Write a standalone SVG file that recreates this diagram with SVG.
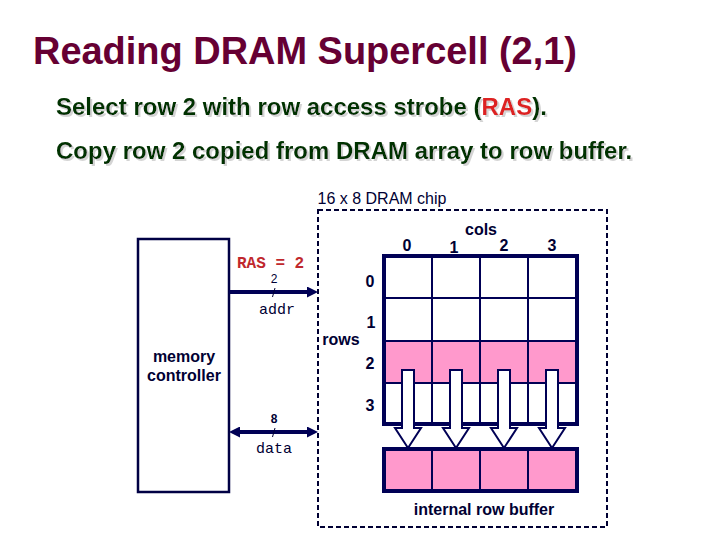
<svg xmlns="http://www.w3.org/2000/svg" width="720" height="540" viewBox="0 0 720 540">
  <style>
    .title { font-family: "Liberation Sans", Arial, sans-serif; font-weight: bold; font-size: 38px; fill: #660033; }
    .sub { font-family: "Liberation Sans", Arial, sans-serif; font-weight: bold; font-size: 24px; fill: #003300; filter: url(#shadow); }
    .lbl { font-family: "Liberation Sans", Arial, sans-serif; font-size: 16px; fill: #000033; }
    .lblb { font-family: "Liberation Sans", Arial, sans-serif; font-weight: bold; font-size: 16px; fill: #000033; }
    .mono { font-family: "Liberation Mono", "Courier New", monospace; font-size: 15px; fill: #000033; }
    .small { font-family: "Liberation Sans", Arial, sans-serif; font-size: 12px; fill: #000033; }
    .ras { font-family: "Liberation Mono", "Courier New", monospace; font-weight: bold; font-size: 16px; fill: #c0282d; }
    .box { fill: #ffffff; stroke: #000044; stroke-width: 2.5; }
    .dash { fill: none; stroke: #000033; stroke-width: 2; stroke-dasharray: 5 3; }
    .cell { fill: #ffffff; stroke: #000055; stroke-width: 2; }
    .hot { fill: #ff99cc; stroke: #000055; stroke-width: 2; }
    .outer { fill: none; stroke: #000055; stroke-width: 4; }
    .bus { stroke: #000055; stroke-width: 4; fill: none; }
    .tick { stroke: #000033; stroke-width: 1; }
    .copy { fill: #ffffff; stroke: #000055; stroke-width: 2; stroke-linejoin: miter; }
  </style>
  <defs>
    <filter id="shadow" x="-5%" y="-20%" width="110%" height="150%">
      <feOffset in="SourceAlpha" dx="1.5" dy="1.5" result="off"/>
      <feFlood flood-color="#d4d4d4"/>
      <feComposite in2="off" operator="in" result="sh"/>
      <feMerge>
        <feMergeNode in="sh"/>
        <feMergeNode in="SourceGraphic"/>
      </feMerge>
    </filter>
    <marker id="head" markerUnits="userSpaceOnUse" markerWidth="11" markerHeight="11" refX="4" refY="5.5" orient="auto-start-reverse">
      <path d="M0,0 L11,5.5 L0,11 z" fill="#000055"/>
    </marker>
  </defs>

  <g id="title">
    <text class="title" x="33" y="64" textLength="544" lengthAdjust="spacingAndGlyphs">Reading DRAM Supercell (2,1)</text>
  </g>
  <g id="subtitle">
    <text class="sub" x="56" y="115">Select row 2 with row access strobe (<tspan fill="#dd2222">RAS</tspan>).</text>
    <text class="sub" x="56" y="159">Copy row 2 copied from DRAM array to row buffer.</text>
  </g>

  <g id="memory-controller">
    <rect class="box" x="138" y="239" width="91" height="253"/>
    <text class="lblb" x="184" y="362" text-anchor="middle">memory</text>
    <text class="lblb" x="184" y="381" text-anchor="middle">controller</text>
  </g>

  <g id="dram-chip">
    <rect class="dash" x="318" y="210" width="289" height="317"/>
    <text class="lbl" x="382" y="204" text-anchor="middle" font-size="16.5">16 x 8 DRAM chip</text>
    <text class="lblb" x="481" y="235" text-anchor="middle">cols</text>
    <text class="lblb" x="407" y="251" text-anchor="middle">0</text>
    <text class="lblb" x="454" y="253" text-anchor="middle">1</text>
    <text class="lblb" x="504" y="251" text-anchor="middle">2</text>
    <text class="lblb" x="552" y="251" text-anchor="middle">3</text>
    <text class="lblb" x="370" y="287" text-anchor="middle">0</text>
    <text class="lblb" x="371" y="328" text-anchor="middle">1</text>
    <text class="lblb" x="341" y="345" text-anchor="middle">rows</text>
    <text class="lblb" x="370" y="369" text-anchor="middle">2</text>
    <text class="lblb" x="370" y="411" text-anchor="middle">3</text>
    <text class="lblb" x="484" y="515" text-anchor="middle">internal row buffer</text>
  </g>

  <g id="dram-array">
    <rect class="cell" x="384" y="256" width="48" height="42"/>
    <rect class="cell" x="432" y="256" width="48" height="42"/>
    <rect class="cell" x="480" y="256" width="48" height="42"/>
    <rect class="cell" x="528" y="256" width="49" height="42"/>
    <rect class="cell" x="384" y="298" width="48" height="43"/>
    <rect class="cell" x="432" y="298" width="48" height="43"/>
    <rect class="cell" x="480" y="298" width="48" height="43"/>
    <rect class="cell" x="528" y="298" width="49" height="43"/>
    <rect class="hot" x="384" y="341" width="48" height="42"/>
    <rect class="hot" x="432" y="341" width="48" height="42"/>
    <rect class="hot" x="480" y="341" width="48" height="42"/>
    <rect class="hot" x="528" y="341" width="49" height="42"/>
    <rect class="cell" x="384" y="383" width="48" height="41"/>
    <rect class="cell" x="432" y="383" width="48" height="41"/>
    <rect class="cell" x="480" y="383" width="48" height="41"/>
    <rect class="cell" x="528" y="383" width="49" height="41"/>
    <rect class="outer" x="384" y="256" width="193" height="168"/>
  </g>

  <g id="row-buffer">
    <rect class="hot" x="384" y="449" width="48" height="42"/>
    <rect class="hot" x="432" y="449" width="48" height="42"/>
    <rect class="hot" x="480" y="449" width="48" height="42"/>
    <rect class="hot" x="528" y="449" width="49" height="42"/>
    <rect class="outer" x="384" y="449" width="193" height="42"/>
  </g>

  <g id="connectors">
    <g id="addr-bus">
      <line class="bus" x1="229" y1="292" x2="311" y2="292" marker-end="url(#head)"/>
      <line class="tick" x1="272.5" y1="297" x2="275" y2="288"/>
      <text class="ras" x="237" y="268">RAS = 2</text>
      <text class="small" x="274" y="283" text-anchor="middle">2</text>
      <text class="mono" x="277" y="314" text-anchor="middle" font-size="16">addr</text>
    </g>
    <g id="data-bus">
      <line class="bus" x1="236" y1="432" x2="311" y2="432" marker-start="url(#head)" marker-end="url(#head)"/>
      <line class="tick" x1="272.5" y1="437" x2="275" y2="428"/>
      <text class="small" x="274" y="423" text-anchor="middle" font-weight="bold">8</text>
      <text class="mono" x="274" y="453" text-anchor="middle" font-size="16">data</text>
    </g>
    <g id="copy-arrows">
      <polygon class="copy" points="402,370 414,370 414,428 421,428 408,448 395,428 402,428"/>
      <polygon class="copy" points="450,370 462,370 462,428 469,428 456,448 443,428 450,428"/>
      <polygon class="copy" points="498,370 510,370 510,428 517,428 504,448 491,428 498,428"/>
      <polygon class="copy" points="546,370 558,370 558,428 565,428 552,448 539,428 546,428"/>
    </g>
  </g>
</svg>
